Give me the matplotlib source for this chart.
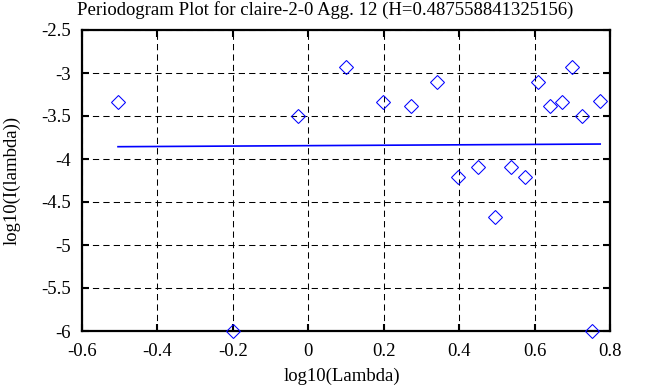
import numpy as np
import matplotlib
matplotlib.use('Agg')
import matplotlib.pyplot as plt

plt.rcParams['font.family'] = ['Liberation Serif', 'DejaVu Serif']

# periodogram points (log10 lambda, log10 I(lambda))
log_lambda = [-0.5045, -0.2, -0.0264, 0.0993, 0.199, 0.2725, 0.342, 0.398, 0.449,
              0.496, 0.537, 0.5756, 0.609, 0.641, 0.672, 0.699, 0.725, 0.751, 0.774]
log_power = [-3.337, -6.0, -3.497, -2.927, -3.34, -3.38, -3.105, -4.213, -4.09,
             -4.67, -4.09, -4.213, -3.105, -3.38, -3.34, -2.927, -3.5, -6.0, -3.33]

# fitted line end points
fit_x = [-0.5045, 0.774]
fit_y = [-3.857, -3.826]

title = 'Periodogram Plot for claire-2-0 Agg. 12 (H=0.487558841325156)'
x_ticks = [-0.6, -0.4, -0.2, 0, 0.2, 0.4, 0.6, 0.8]
x_labels = ['-0.6', '-0.4', '-0.2', '0', '0.2', '0.4', '0.6', '0.8']
y_ticks = [-2.5, -3, -3.5, -4, -4.5, -5, -5.5, -6]
y_labels = ['-2.5', '-3', '-3.5', '-4', '-4.5', '-5', '-5.5', '-6']

fs = 13.5

fig = plt.figure(figsize=(6.58, 3.87), dpi=100)
ax = fig.add_axes([82 / 658, 1 - 331 / 387, 528 / 658, 301 / 387])

ax.plot(log_lambda, log_power, linestyle='none', marker='D', markersize=7.4,
        markerfacecolor='none', markeredgecolor='#0000ff', markeredgewidth=0.75,
        clip_on=False, zorder=3)
ax.plot(fit_x, fit_y, color='#0000ff', linewidth=1.2, zorder=3)

ax.set_xlim(-0.6, 0.8)
ax.set_ylim(-6, -2.5)
ax.set_xticks(x_ticks)
ax.set_xticklabels(x_labels)
ax.set_yticks(y_ticks)
ax.set_yticklabels(y_labels)
ax.grid(True, color='black', linestyle=(0, (6, 4)), linewidth=0.75)

ax.tick_params(direction='in', length=5, width=1.5, top=True, right=True,
               labelsize=fs)
ax.tick_params(axis='x', pad=9)
ax.tick_params(axis='y', pad=8)
for s in ax.spines.values():
    s.set_linewidth(1.6)

ax.set_xlabel('log10(Lambda)', fontsize=fs)
ax.set_ylabel('log10(I(lambda))', fontsize=fs)
ax.xaxis.set_label_coords((342 - 82) / 528, -(376 - 331) / 301)
ax.yaxis.set_label_coords(-(82 - 12) / 528, 0.5)
ax.xaxis.label.set_va('center')
ax.yaxis.label.set_va('center')
fig.text(325 / 658, 1 - 10 / 387, title, fontsize=fs, ha='center', va='center')

fig.savefig('out.png', dpi=100)
